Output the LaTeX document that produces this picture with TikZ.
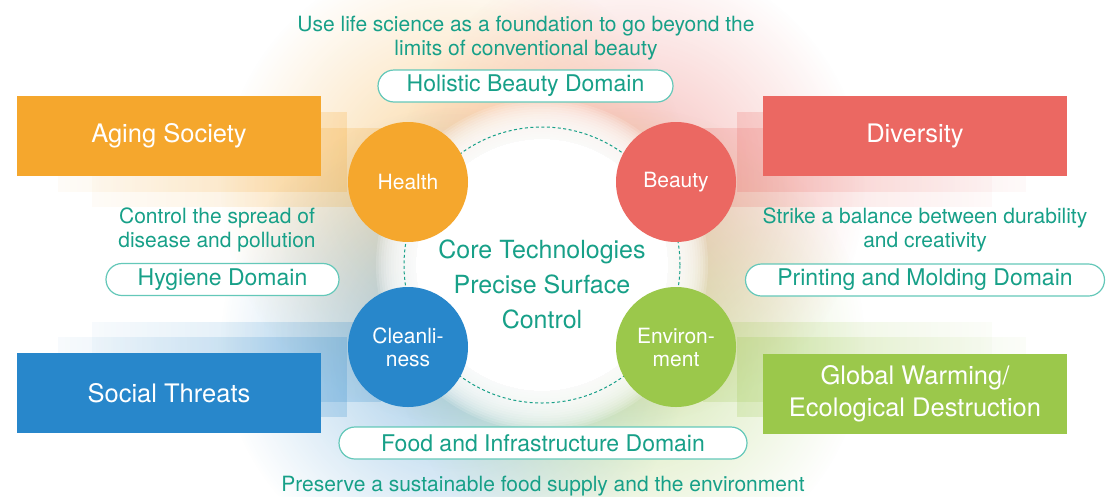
\documentclass[tikz,border=0pt]{standalone}
\usepackage{fontspec}
\setmainfont{TeX Gyre Heros}
\usetikzlibrary{fadings}

\definecolor{corange}{HTML}{F5A72D}
\definecolor{cred}{HTML}{EB6862}
\definecolor{cblue}{HTML}{2887CB}
\definecolor{cgreen}{HTML}{9BC84B}
\definecolor{cteal}{HTML}{17A088}
\definecolor{cborder}{HTML}{64C8B9}

\tikzfading[name=blobfade, inner color=transparent!0, outer color=transparent!100]
\tikzfading[name=fadeR, left color=transparent!85, right color=transparent!0]
\tikzfading[name=fadeL, left color=transparent!0, right color=transparent!85]

\begin{document}
\begin{tikzpicture}[x=1pt,y=-1pt,
  bigbox/.style={minimum width=304pt, minimum height=80pt, inner sep=0pt, text=white, font=\fontsize{25.5}{32}\selectfont, align=center},
  ball/.style={circle, minimum size=120pt, inner sep=0pt, text=white, font=\fontsize{21}{23}\selectfont, align=center},
  domainbox/.style={draw=cborder, line width=1.2pt, fill=white, rounded corners=16pt, minimum height=32pt, inner sep=0pt, text=cteal, font=\fontsize{23}{27}\selectfont},
  desc/.style={text=cteal, font=\fontsize{21}{24}\selectfont, align=center, inner sep=0pt},
  corering/.style={circle, draw=cteal, line width=1pt, dash pattern=on 3pt off 2.5pt, minimum size=276pt, inner sep=0pt},
  glow/.style={fill opacity=0.45, path fading=blobfade},
  shadowL/.style={fill opacity=0.22, path fading=fadeR},
  shadowR/.style={fill opacity=0.22, path fading=fadeL}
]
\useasboundingbox[fill=white] (0,0) rectangle (1106,496);

% background glow
\fill[corange, glow] (455,188) circle[radius=235pt];
\fill[cred, glow] (630,188) circle[radius=235pt];
\fill[cblue, glow] (455,342) circle[radius=235pt];
\fill[cgreen, glow] (630,342) circle[radius=235pt];
% white centre with soft edge
\fill[white] (542,265) circle[radius=126pt];
\foreach \i in {1,...,16}{
  \fill[white, fill opacity=0.17] (542,265) circle[radius={(126+2.5*\i)*1pt}];
}

% box shadows
\fill[corange, shadowL] (58,112) rectangle (347,192);
\fill[corange, shadowL] (92,128) rectangle (381,207);
\fill[cred, shadowR] (737,112) rectangle (1026,192);
\fill[cred, shadowR] (703,128) rectangle (992,207);
\fill[cblue, shadowL] (58,337) rectangle (347,417);
\fill[cblue, shadowL] (92,322) rectangle (381,402);
\fill[cgreen, shadowR] (737,337) rectangle (1026,417);
\fill[cgreen, shadowR] (703,322) rectangle (992,402);

% core
\node[corering] (ring) at (542,265) {};
\node[desc, font=\fontsize{25}{35}\selectfont] (coretext) at (542,284) {Core Technologies\\Precise Surface\\Control};

% circles
\node[ball, fill=corange] (health) at (408,182) {Health};
\node[ball, fill=cred] (beauty) at (676,182) {Beauty};
\node[ball, fill=cblue] (clean) at (408,347) {Cleanli-\\ness};
\node[ball, fill=cgreen] (env) at (676,347) {Environ-\\ment};

% big boxes
\node[bigbox, fill=corange] (aging) at (169,136) {Aging Society};
\node[bigbox, fill=cred] (diversity) at (915,136) {Diversity};
\node[bigbox, fill=cblue] (threats) at (169,393) {Social Threats};
\node[bigbox, fill=cgreen] (warming) at (915,394) {Global Warming/\\Ecological Destruction};

% domains
\node[desc] (toptext) at (526,38) {Use life science as a foundation to go beyond the\\limits of conventional beauty};
\node[domainbox, minimum width=295pt] (holistic) at (525.5,86) {Holistic Beauty Domain};
\node[desc] (hygtext) at (217,230) {Control the spread of\\disease and pollution};
\node[domainbox, minimum width=233pt] (hygiene) at (222.5,279.5) {Hygiene Domain};
\node[desc] (printtext) at (925,230) {Strike a balance between durability\\and creativity};
\node[domainbox, minimum width=359pt] (printing) at (925,280) {Printing and Molding Domain};
\node[domainbox, minimum width=408pt] (food) at (543,443) {Food and Infrastructure Domain};
\node[desc] (foodtext) at (543,486) {Preserve a sustainable food supply and the environment};
\end{tikzpicture}
\end{document}
